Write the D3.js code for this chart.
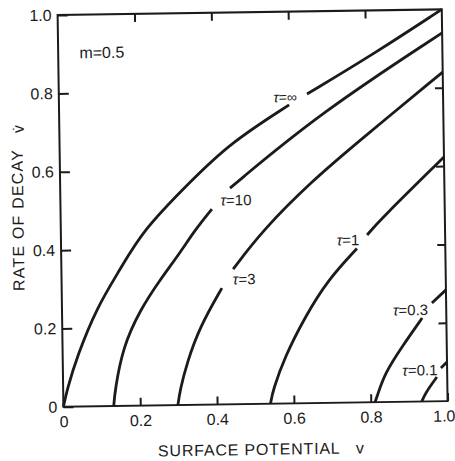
<!DOCTYPE html>
<html>
<head>
<meta charset="utf-8">
<script src="https://cdn.jsdelivr.net/npm/d3@7"></script>
<style>
  body { margin: 0; background: #fff; }
  svg { display: block; }
  text { font-family: "Liberation Sans", Arial, sans-serif; fill: #1b1b1b; }
</style>
</head>
<body>
<script>
// rate of decay vdot against surface potential v, m = 0.5
// rows are [v, vdot]; a null vdot leaves the gap where the label sits
var tauInf = [[0,0],[0.010,0.043],[0.037,0.127],[0.091,0.253],[0.152,0.347],[0.214,0.448],[0.338,0.569],[0.444,0.667],[0.599,0.762],[0.62,null],[0.646,0.789],[0.825,0.891],[1.0,1.0]];
var tau10 = [[0.131,0],[0.135,0.041],[0.157,0.150],[0.203,0.244],[0.256,0.320],[0.309,0.388],[0.349,0.446],[0.394,0.499],[0.42,null],[0.442,0.552],[0.679,0.740],[1.0,0.940]];
var tau3 = [[0.298,0],[0.304,0.038],[0.323,0.107],[0.358,0.199],[0.417,0.297],[0.43,null],[0.447,0.345],[0.526,0.444],[0.658,0.569],[0.777,0.665],[1.0,0.840]];
var tau1 = [[0.539,0],[0.546,0.035],[0.578,0.119],[0.632,0.220],[0.693,0.314],[0.770,0.393],[0.78,null],[0.797,0.427],[0.831,0.465],[1.0,0.623]];
var tau03 = [[0.811,0],[0.816,0.013],[0.838,0.074],[0.883,0.140],[0.937,0.213],[0.95,null],[0.963,0.251],[1.0,0.284]];
var tau01 = [[0.933,0],[0.942,0.021],[0.973,0.062],[0.978,null],[0.984,0.085],[1.0,0.100]];

var curves = [tauInf, tau10, tau3, tau1, tau03, tau01];
var labelText = ["=\u221e", "=10", "=3", "=1", "=0.3", "=0.1"];
var labelV = [0.589, 0.457, 0.475, 0.747, 0.907, 0.929];
var labelVd = [0.782, 0.521, 0.319, 0.415, 0.234, 0.080];

var xTicks = [0, 0.2, 0.4, 0.6, 0.8, 1.0];
var yTicks = [0, 0.2, 0.4, 0.6, 0.8, 1.0];
var innerTicks = [0.2, 0.4, 0.6, 0.8];

var svg = d3.select("body").append("svg")
  .attr("width", 455).attr("height", 461);
svg.append("rect").attr("width", 455).attr("height", 461).attr("fill", "#fff");

// the scanned page sits a little askew
var g = svg.append("g").attr("transform", "rotate(-0.85,252.6,208.1)");

var x = d3.scaleLinear().domain([0, 1]).range([60.5, 444.7]);
var y = d3.scaleLinear().domain([0, 1]).range([404, 12.2]);

var fmt = function(d) { return d === 0 ? "0" : d.toFixed(1); };

function styleAxis(a) {
  a.select(".domain").remove();
  a.selectAll("line").attr("stroke", "#1b1b1b").attr("stroke-width", 2);
  a.selectAll("text").attr("font-size", 16).attr("fill", "#1b1b1b");
  a.attr("font-family", null).attr("font-size", null);
}

var bottom = g.append("g").attr("transform", "translate(0," + y(0) + ")")
  .call(d3.axisBottom(x).tickValues(xTicks).tickSizeInner(-8).tickSizeOuter(0).tickPadding(9).tickFormat(fmt))
  .call(styleAxis);
// last label runs to the page edge, nudge it in
bottom.selectAll("text").filter(function(d) { return d === 1; }).attr("dx", -4);

g.append("g").attr("transform", "translate(" + x(0) + ",0)")
  .call(d3.axisLeft(y).tickValues(yTicks).tickSizeInner(-10).tickSizeOuter(0).tickPadding(6).tickFormat(fmt))
  .call(styleAxis);
g.append("g").attr("transform", "translate(0," + y(1) + ")")
  .call(d3.axisTop(x).tickValues(innerTicks).tickSizeInner(-8).tickSizeOuter(0).tickFormat(""))
  .call(styleAxis);
g.append("g").attr("transform", "translate(" + x(1) + ",0)")
  .call(d3.axisRight(y).tickValues(innerTicks).tickSizeInner(-8).tickSizeOuter(0).tickFormat(""))
  .call(styleAxis);

g.append("rect")
  .attr("x", x(0)).attr("y", y(1))
  .attr("width", x(1) - x(0)).attr("height", y(0) - y(1))
  .attr("fill", "none").attr("stroke", "#1b1b1b").attr("stroke-width", 2);

var line = d3.line()
  .defined(function(d) { return d[1] !== null; })
  .x(function(d) { return x(d[0]); })
  .y(function(d) { return y(d[1]); })
  .curve(d3.curveBasis);

g.selectAll(".curve")
  .data(curves)
  .enter()
  .append("path")
  .attr("class", "curve")
  .attr("d", line)
  .attr("fill", "none")
  .attr("stroke", "#1b1b1b")
  .attr("stroke-width", 2.8);

var lab = g.selectAll(".lab")
  .data(labelText)
  .enter()
  .append("text")
  .attr("class", "lab")
  .attr("x", function(d, i) { return x(labelV[i]); })
  .attr("y", function(d, i) { return y(labelVd[i]); })
  .attr("dy", "0.35em")
  .attr("text-anchor", "middle")
  .attr("font-size", function(d, i) { return i === 0 ? 14 : 15; });
lab.append("tspan").attr("font-style", "italic").text("\u03c4");
lab.append("tspan").text(function(d) { return d; });

g.append("text")
  .attr("x", x(0.055)).attr("y", y(0.903)).attr("dy", "0.35em")
  .attr("font-size", 16)
  .text("m=0.5");

// axis titles
g.append("text")
  .attr("x", 154.4).attr("y", 455)
  .attr("font-size", 16).attr("letter-spacing", 0.8)
  .text("SURFACE POTENTIAL");
g.append("text")
  .attr("x", 356.4).attr("y", 455)
  .attr("text-anchor", "middle").attr("font-size", 16)
  .text("v");

g.append("text")
  .attr("transform", "translate(17.8,216.5) rotate(-90)")
  .attr("text-anchor", "middle").attr("dy", "0.35em")
  .attr("font-size", 16).attr("letter-spacing", 1.2)
  .text("RATE OF DECAY");
g.append("text")
  .attr("transform", "translate(19.2,125.5) rotate(-90)")
  .attr("text-anchor", "middle").attr("dy", "0.35em")
  .attr("font-size", 16)
  .text("v\u0307");
</script>
</body>
</html>
